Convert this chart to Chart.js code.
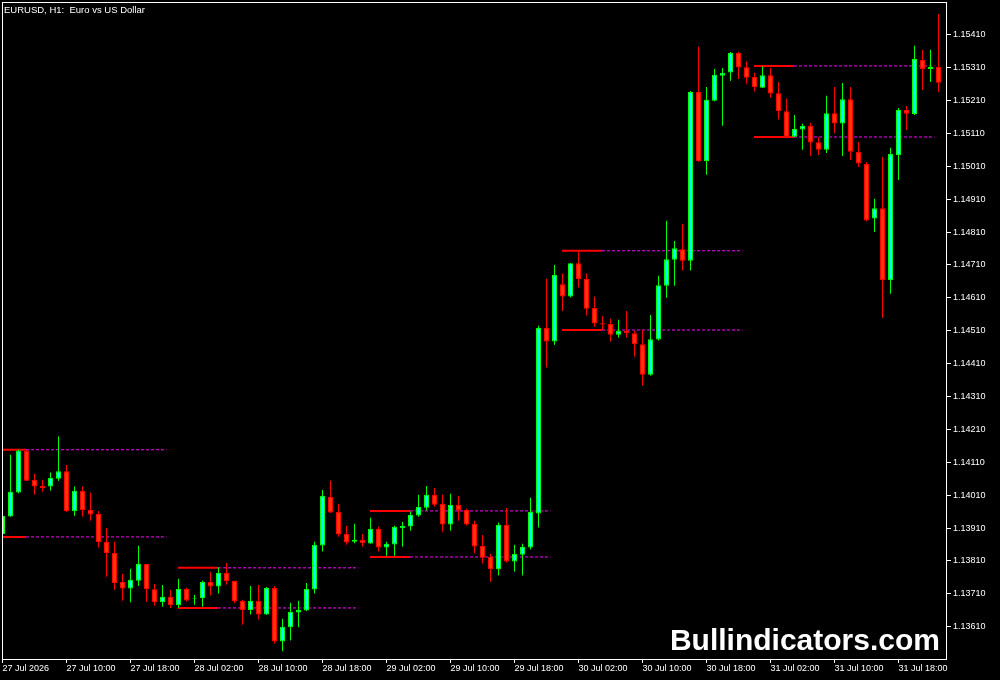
<!DOCTYPE html>
<html>
<head>
<meta charset="utf-8">
<script src="https://cdn.jsdelivr.net/npm/chart.js@4"></script>
<style>
  html, body { margin: 0; padding: 0; background: #000; }
  canvas { display: block; }
</style>
</head>
<body>
<canvas id="priceCanvas" width="1000" height="680"></canvas>
<script>
// one label every 8 hourly bars, first bar is 27 Jul 02:00
const timeLabels = ['27 Jul 2026', '27 Jul 10:00', '27 Jul 18:00', '28 Jul 02:00', '28 Jul 10:00', '28 Jul 18:00',
    '29 Jul 02:00', '29 Jul 10:00', '29 Jul 18:00', '30 Jul 02:00', '30 Jul 10:00', '30 Jul 18:00',
    '31 Jul 02:00', '31 Jul 10:00', '31 Jul 18:00'];

const opens = [1.13892, 1.13945, 1.14018, 1.14146, 1.14057, 1.14038, 1.14036, 1.14060, 1.14083, 1.13961,
    1.14023, 1.13965, 1.13953, 1.13868, 1.13834, 1.13746, 1.13726, 1.13750, 1.13801, 1.13724,
    1.13684, 1.13701, 1.13675, 1.13725, 1.13696, 1.13697, 1.13746, 1.13732, 1.13774, 1.13750,
    1.13689, 1.13661, 1.13689, 1.13647, 1.13728, 1.13565, 1.13608, 1.13653, 1.13659, 1.13723,
    1.13857, 1.14005, 1.13959, 1.13892, 1.13868, 1.13874, 1.13863, 1.13908, 1.13851, 1.13860,
    1.13909, 1.13915, 1.13948, 1.13972, 1.14011, 1.13984, 1.13921, 1.13981, 1.13965, 1.13923,
    1.13855, 1.13822, 1.13785, 1.13920, 1.13808, 1.13829, 1.13851, 1.13954, 1.14518, 1.14477,
    1.14651, 1.14614, 1.14715, 1.14667, 1.14579, 1.14533, 1.14530, 1.14498, 1.14509, 1.14502,
    1.14469, 1.14376, 1.14483, 1.14647, 1.14726, 1.14758, 1.14723, 1.15236, 1.15026, 1.15209,
    1.15285, 1.15295, 1.15354, 1.15311, 1.15281, 1.15249, 1.15287, 1.15232, 1.15177, 1.15100,
    1.15122, 1.15133, 1.15083, 1.15060, 1.15171, 1.15140, 1.15214, 1.15053, 1.15017, 1.14851,
    1.14882, 1.14664, 1.15044, 1.15181, 1.15169, 1.15333, 1.15306, 1.15312];

const highs = [1.13953, 1.14133, 1.14148, 1.14147, 1.14075, 1.14057, 1.14079, 1.14188, 1.14102, 1.14036,
    1.14036, 1.14018, 1.13962, 1.13909, 1.13868, 1.13771, 1.13786, 1.13856, 1.13801, 1.13740,
    1.13737, 1.13722, 1.13756, 1.13728, 1.13707, 1.13750, 1.13777, 1.13791, 1.13804, 1.13750,
    1.13692, 1.13734, 1.13737, 1.13731, 1.13734, 1.13634, 1.13683, 1.13689, 1.13743, 1.13868,
    1.14026, 1.14054, 1.13984, 1.13917, 1.13923, 1.13892, 1.13941, 1.13914, 1.13868, 1.13917,
    1.13929, 1.13960, 1.14011, 1.14038, 1.14032, 1.14011, 1.14014, 1.14008, 1.13969, 1.13932,
    1.13889, 1.13832, 1.13927, 1.13971, 1.13859, 1.13862, 1.14002, 1.14525, 1.14668, 1.14710,
    1.14684, 1.14716, 1.14753, 1.14684, 1.14613, 1.14555, 1.14546, 1.14543, 1.14570, 1.14510,
    1.14512, 1.14558, 1.14677, 1.14844, 1.14783, 1.14835, 1.15239, 1.15373, 1.15251, 1.15306,
    1.15309, 1.15357, 1.15357, 1.15329, 1.15294, 1.15313, 1.15309, 1.15266, 1.15215, 1.15166,
    1.15139, 1.15142, 1.15098, 1.15224, 1.15251, 1.15263, 1.15251, 1.15084, 1.15023, 1.14911,
    1.15038, 1.15066, 1.15187, 1.15193, 1.15376, 1.15364, 1.15364, 1.15473];

const lows = [1.13886, 1.13944, 1.14016, 1.14053, 1.14011, 1.14020, 1.14024, 1.14054, 1.13959, 1.13947,
    1.13945, 1.13933, 1.13851, 1.13763, 1.13722, 1.13690, 1.13684, 1.13734, 1.13686, 1.13674,
    1.13671, 1.13667, 1.13667, 1.13687, 1.13677, 1.13671, 1.13705, 1.13711, 1.13738, 1.13681,
    1.13617, 1.13647, 1.13632, 1.13646, 1.13559, 1.13535, 1.13568, 1.13608, 1.13658, 1.13711,
    1.13839, 1.13956, 1.13884, 1.13860, 1.13864, 1.13853, 1.13862, 1.13839, 1.13826, 1.13826,
    1.13854, 1.13902, 1.13944, 1.13963, 1.13975, 1.13899, 1.13902, 1.13933, 1.13918, 1.13833,
    1.13802, 1.13747, 1.13766, 1.13805, 1.13778, 1.13766, 1.13845, 1.13912, 1.14398, 1.14467,
    1.14570, 1.14611, 1.14641, 1.14556, 1.14522, 1.14512, 1.14477, 1.14489, 1.14489, 1.14431,
    1.14343, 1.14373, 1.14480, 1.14610, 1.14647, 1.14693, 1.14693, 1.15024, 1.14984, 1.15208,
    1.15133, 1.15270, 1.15275, 1.15261, 1.15237, 1.15248, 1.15219, 1.15152, 1.15099, 1.15099,
    1.15060, 1.15041, 1.15044, 1.15050, 1.15111, 1.15041, 1.15029, 1.15008, 1.14843, 1.14810,
    1.14549, 1.14622, 1.14968, 1.15120, 1.15166, 1.15242, 1.15266, 1.15236];

const closes = [1.13947, 1.14020, 1.14146, 1.14054, 1.14036, 1.14032, 1.14062, 1.14083, 1.13961, 1.14023,
    1.13964, 1.13951, 1.13867, 1.13834, 1.13743, 1.13726, 1.13753, 1.13801, 1.13724, 1.13684,
    1.13701, 1.13675, 1.13725, 1.13690, 1.13698, 1.13746, 1.13732, 1.13774, 1.13749, 1.13687,
    1.13661, 1.13689, 1.13647, 1.13728, 1.13565, 1.13610, 1.13655, 1.13661, 1.13725, 1.13859,
    1.14008, 1.13957, 1.13890, 1.13866, 1.13874, 1.13864, 1.13908, 1.13851, 1.13862, 1.13914,
    1.13917, 1.13950, 1.13974, 1.14011, 1.13981, 1.13921, 1.13981, 1.13963, 1.13921, 1.13854,
    1.13820, 1.13785, 1.13920, 1.13808, 1.13831, 1.13852, 1.13959, 1.14518, 1.14477, 1.14679,
    1.14614, 1.14715, 1.14667, 1.14577, 1.14532, 1.14529, 1.14498, 1.14510, 1.14502, 1.14469,
    1.14376, 1.14484, 1.14648, 1.14727, 1.14761, 1.14723, 1.15236, 1.15026, 1.15212, 1.15288,
    1.15294, 1.15354, 1.15310, 1.15279, 1.15250, 1.15287, 1.15231, 1.15177, 1.15100, 1.15123,
    1.15133, 1.15082, 1.15060, 1.15171, 1.15140, 1.15214, 1.15054, 1.15018, 1.14845, 1.14882,
    1.14664, 1.15047, 1.15181, 1.15170, 1.15336, 1.15306, 1.15312, 1.15264];

const priceTicks = [1.13610, 1.13710, 1.13810, 1.13910, 1.14010, 1.14110, 1.14210, 1.14310, 1.14410, 1.14510,
    1.14610, 1.14710, 1.14810, 1.14910, 1.15010, 1.15110, 1.15210, 1.15310, 1.15410];

// session range levels: bar where the range box starts, its high and low
const levelBars = [-2, 22, 46, 70, 94];
const levelHighs = [1.14148, 1.13789, 1.13962, 1.14753, 1.15315];
const levelLows = [1.13883, 1.13667, 1.13822, 1.14512, 1.15099];

const bullBorder = '#00ff00';
const bullFill = '#00ffff';
const bearBorder = '#ff0000';
const bearFill = '#ff3300';
const isBull = i => closes[i] >= opens[i];

const wickData = opens.map((o, i) => ({ x: i, y: [lows[i], highs[i]] }));
const bodyData = opens.map((o, i) => ({ x: i, y: [opens[i], closes[i]] }));

const levelSets = [];
levelBars.forEach((b, i) => {
    [levelHighs[i], levelLows[i]].forEach(p => {
        levelSets.push({
            type: 'line',
            data: [{ x: b - 0.06, y: p }, { x: b + 4.94, y: p }],
            borderColor: '#ff0000',
            borderWidth: 2,
            pointRadius: 0,
            order: 3
        });
        levelSets.push({
            type: 'line',
            data: [{ x: b + 4.94, y: p }, { x: b + 22.5, y: p }],
            borderColor: '#ff00ff',
            borderWidth: 1,
            borderDash: [3, 2],
            pointRadius: 0,
            order: 3
        });
    });
});

const chartText = {
    id: 'chartText',
    beforeDraw(chart) {
        const ctx = chart.ctx;
        ctx.save();
        ctx.fillStyle = '#000';
        ctx.fillRect(0, 0, chart.width, chart.height);
        ctx.restore();
    },
    afterDraw(chart) {
        const ctx = chart.ctx;
        const a = chart.chartArea;
        ctx.save();
        ctx.strokeStyle = '#ffffff';
        ctx.lineWidth = 1;
        ctx.strokeRect(a.left + 0.5, a.top + 0.5, a.right - a.left, a.bottom - a.top);
        ctx.fillStyle = '#ffffff';
        ctx.textBaseline = 'alphabetic';
        ctx.font = '9.5px "Liberation Sans"';
        ctx.textAlign = 'left';
        ctx.fillText('EURUSD, H1:  Euro vs US Dollar', 4, 13);
        ctx.font = 'bold 30px "Liberation Sans"';
        ctx.textAlign = 'right';
        ctx.fillText('Bullindicators.com', 940, 650);
        ctx.restore();
    }
};

Chart.defaults.font.family = '"Liberation Sans", Arial, sans-serif';

const priceChart = new Chart(document.getElementById('priceCanvas').getContext('2d'), {
    type: 'bar',
    data: {
        datasets: [
            {
                data: wickData,
                grouped: false,
                barThickness: 1,
                inflateAmount: 0,
                borderWidth: 0,
                backgroundColor: ctx => isBull(ctx.dataIndex) ? bullBorder : bearBorder,
                order: 2
            },
            {
                data: bodyData,
                grouped: false,
                barThickness: 5,
                inflateAmount: 0,
                borderWidth: 1,
                borderSkipped: false,
                backgroundColor: ctx => isBull(ctx.dataIndex) ? bullFill : bearFill,
                borderColor: ctx => isBull(ctx.dataIndex) ? bullBorder : bearBorder,
                order: 1
            },
            ...levelSets
        ]
    },
    options: {
        responsive: false,
        animation: false,
        layout: { padding: { top: 2, left: 2, right: 0, bottom: 0 } },
        plugins: {
            legend: { display: false },
            tooltip: { enabled: false }
        },
        scales: {
            x: {
                type: 'linear',
                min: -0.0625,
                max: 117.9375,
                offset: false,
                afterFit: s => {
                    s.height = 21;
                    s.paddingLeft = 0;
                    s.paddingRight = 0;
                },
                afterBuildTicks: s => { s.ticks = timeLabels.map((t, i) => ({ value: i * 8 })); },
                grid: { offset: false, drawOnChartArea: false, drawTicks: true, tickLength: 4, color: '#ffffff' },
                border: { display: false },
                ticks: {
                    autoSkip: false,
                    maxRotation: 0,
                    align: 'start',
                    padding: 0,
                    color: '#ffffff',
                    font: { size: 9 },
                    callback: (v, i) => timeLabels[i]
                }
            },
            y: {
                position: 'right',
                min: 1.135118,
                max: 1.155094,
                afterFit: s => {
                    s.width = 54;
                    s.paddingTop = 0;
                    s.paddingBottom = 0;
                },
                afterBuildTicks: s => { s.ticks = priceTicks.map(v => ({ value: v })); },
                grid: { drawOnChartArea: false, drawTicks: true, tickLength: 5, color: '#ffffff' },
                border: { display: false },
                ticks: {
                    padding: 2,
                    color: '#ffffff',
                    font: { size: 9 },
                    callback: v => v.toFixed(5)
                }
            }
        }
    },
    plugins: [chartText]
});
</script>
</body>
</html>
